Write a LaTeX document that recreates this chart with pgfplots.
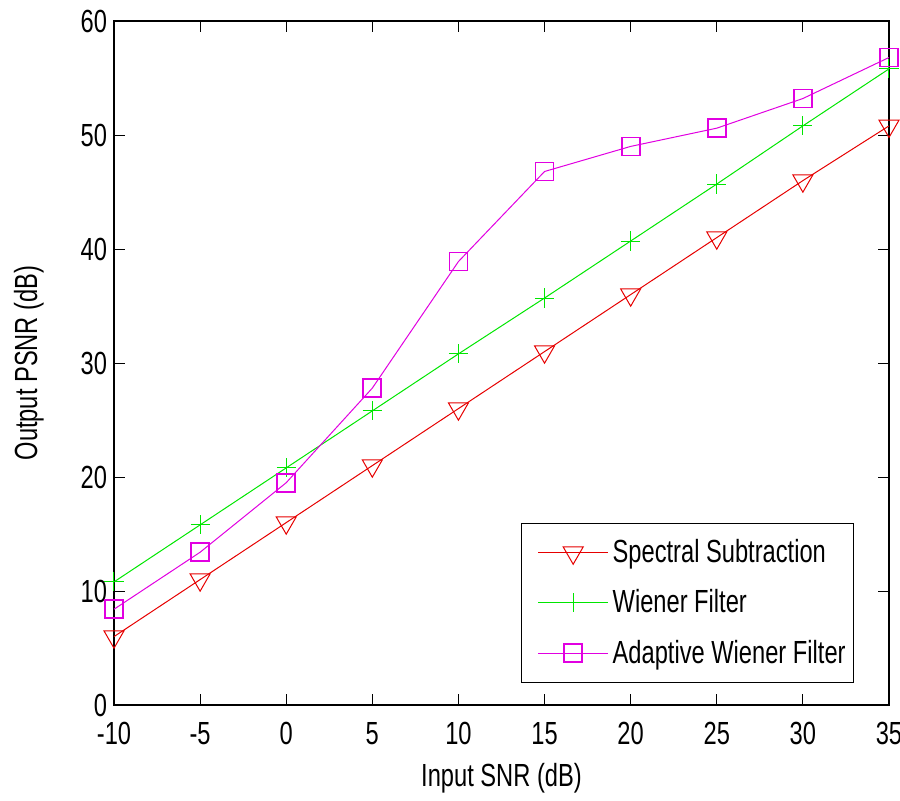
\documentclass[border=0pt]{standalone}
\usepackage{fontspec}
\setmainfont{Liberation Sans}[FakeStretch=0.74]
\usepackage{pgfplots}
\pgfplotsset{compat=1.18}
\definecolor{mred}{RGB}{230,0,0}
\definecolor{mgreen}{RGB}{0,230,0}
\definecolor{mmag}{RGB}{225,0,225}
\begin{document}
\begin{tikzpicture}
\begin{axis}[
  scale only axis,
  width=387.5pt, height=342pt,
  xmin=-10, xmax=35, ymin=0, ymax=60,
  xtick={-10,-5,0,5,10,15,20,25,30,35},
  xticklabels={-10,-5,0,5,10,15,20,25,30,35},
  ytick={0,10,20,30,40,50,60},
  yticklabels={0,10,20,30,40,50,60},
  tick align=inside,
  major tick length=5.5pt,
  tick style={black, line width=0.5pt},
  axis line style={line width=0.6pt},
  font=\fontsize{16}{19}\selectfont,
  xticklabel style={yshift=-5pt},
  xlabel={Input SNR (dB)},
  ylabel={Output PSNR (dB)},
  xlabel style={yshift=-2.5pt},
  ylabel style={yshift=11.5pt},
  clip=false,
  legend style={at={(0.955,0.266)}, anchor=north east, draw=black, line width=0.5pt,
    font=\fontsize{16}{19}\selectfont, row sep=8pt, inner xsep=2pt, inner ysep=6pt, cells={anchor=west}},
  legend image code/.code={\path (-6pt,0pt); \draw[mark repeat=2,mark phase=2] plot coordinates {(0pt,0pt) (17.5pt,0pt) (35pt,0pt)};},
  every axis plot/.append style={line width=0.5pt},
]
\addplot[mred, mark=triangle, mark options={rotate=180, mark size=5.8pt, fill=none, solid}]
  coordinates {(-10,6) (-5,11) (0,16) (5,21) (10,26) (15,31) (20,36) (25,41) (30,46) (35,50.8)};
\addlegendentry{Spectral Subtraction}
\addplot[mgreen, mark=+, mark options={mark size=4.8pt}]
  coordinates {(-10,10.8) (-5,15.8) (0,20.8) (5,25.8) (10,30.8) (15,35.7) (20,40.7) (25,45.7) (30,50.8) (35,55.8)};
\addlegendentry{Wiener Filter}
\addplot[mmag, mark=square, mark options={mark size=4.5pt, fill=none, draw=mmag, line width=0.9pt}]
  coordinates {(-10,8.4) (-5,13.4) (0,19.5) (5,27.8) (10,38.9) (15,46.8) (20,49.0) (25,50.6) (30,53.2) (35,56.8)};
\addlegendentry{Adaptive Wiener Filter}
\end{axis}
\pgfresetboundingbox
\path (-57pt,-47.5pt) rectangle (393pt,352.5pt);
\end{tikzpicture}
\end{document}
